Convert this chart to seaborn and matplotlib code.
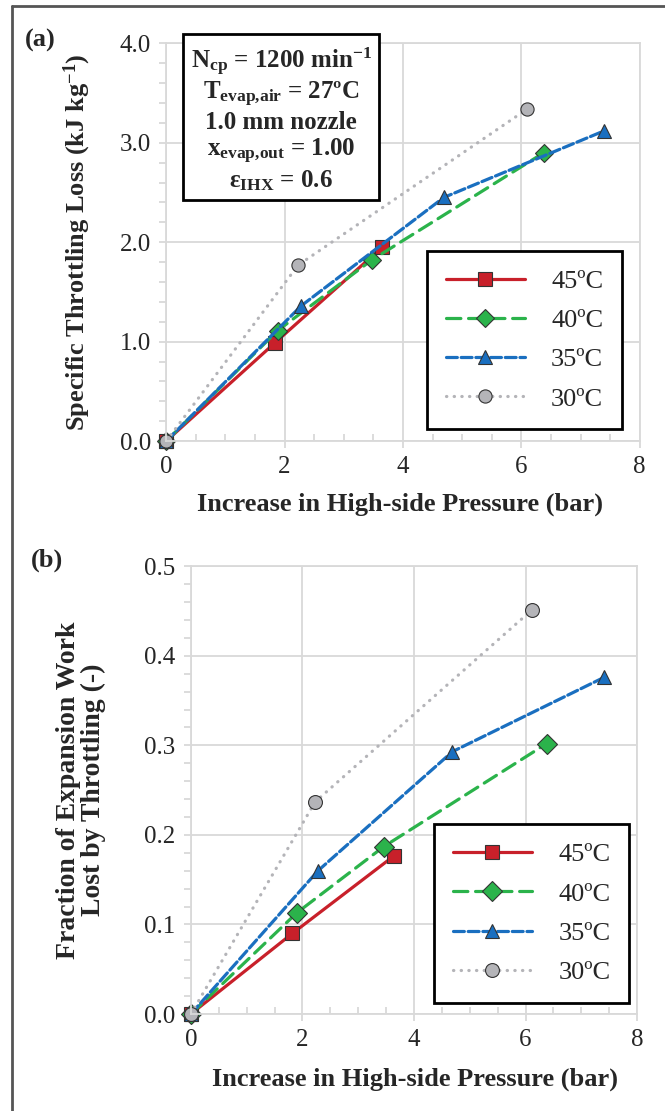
import pandas as pd
import matplotlib.pyplot as plt
import numpy as np
import seaborn as sns
from matplotlib.lines import Line2D
from matplotlib.ticker import MultipleLocator, FormatStrFormatter

# ---- data ----
labels = ["45ºC", "40ºC", "35ºC", "30ºC"]

dp_45 = [0, 1.84, 3.65]
dp_40 = [0, 1.88, 3.47, 6.38]
dp_35 = [0, 2.28, 4.69, 7.40]
dp_30 = [0, 2.23, 6.10]

loss_45 = [0, 0.99, 1.95]
loss_40 = [0, 1.11, 1.82, 2.90]
loss_35 = [0, 1.36, 2.45, 3.12]
loss_30 = [0, 1.77, 3.34]

dp_b_45 = [0, 1.82, 3.65]
dp_b_40 = [0, 1.90, 3.46, 6.38]
dp_b_35 = [0, 2.28, 4.69, 7.41]
dp_b_30 = [0, 2.23, 6.11]

frac_45 = [0, 0.090, 0.177]
frac_40 = [0, 0.113, 0.187, 0.302]
frac_35 = [0, 0.160, 0.293, 0.376]
frac_30 = [0, 0.237, 0.451]

conditions = ["N$_{cp}$ = 1200 min$^{-1}$", "T$_{evap{,}air}$ = 27ºC",
              "1.0 mm nozzle", "x$_{evap{,}out}$ = 1.00", "ε$_{IHX}$ = 0.6"]


def make_df(xs, ys):
    rows = []
    for lab, x, y in zip(labels, xs, ys):
        for xi, yi in zip(x, y):
            rows.append({"Temp": lab, "dP": xi, "val": yi})
    return pd.DataFrame(rows)


df_a = make_df([dp_45, dp_40, dp_35, dp_30], [loss_45, loss_40, loss_35, loss_30])
df_b = make_df([dp_b_45, dp_b_40, dp_b_35, dp_b_30], [frac_45, frac_40, frac_35, frac_30])

sns.set_style("white")
plt.rcParams['font.family'] = ['Liberation Serif', 'DejaVu Serif']
plt.rcParams['mathtext.fontset'] = 'custom'
plt.rcParams['mathtext.rm'] = 'Liberation Serif'
plt.rcParams['mathtext.bf'] = 'Liberation Serif:bold'
plt.rcParams['mathtext.default'] = 'bf'

palette = {"45ºC": "#c8202a", "40ºC": "#2bb34b", "35ºC": "#1a6fc0", "30ºC": "#b4b4b8"}
markers = {"45ºC": "s", "40ºC": "D", "35ºC": "^", "30ºC": "o"}
dashes = {"45ºC": "", "40ºC": (4.5, 2.4), "35ºC": (3.4, 1.2), "30ºC": (0.1, 2.3)}
grid_c = "#d9d9d9"

fig = plt.figure(figsize=(6.65, 11.11), dpi=100)
ax_a = fig.add_axes([0.250, 0.603, 0.712, 0.358])
ax_b = fig.add_axes([0.287, 0.0873, 0.671, 0.403])

for ax, df, ms in [(ax_a, df_a, 9.5), (ax_b, df_b, 10)]:
    sns.lineplot(data=df, x="dP", y="val", hue="Temp", style="Temp",
                 hue_order=labels, style_order=labels, palette=palette,
                 markers=markers, dashes=dashes, sort=False, ax=ax,
                 lw=2.3, markersize=ms, markeredgecolor="#333333",
                 markeredgewidth=0.8, dash_capstyle="round", clip_on=False)
    ax.set_xlim(0, 8)
    ax.xaxis.set_major_locator(MultipleLocator(2))
    ax.xaxis.set_minor_locator(MultipleLocator(0.5))
    ax.grid(True, which="major", color=grid_c, lw=1.3)
    ax.set_axisbelow(True)
    for s in ax.spines.values():
        s.set_color(grid_c)
        s.set_linewidth(1.3)
    ax.tick_params(which="major", axis="both", length=5, color=grid_c, width=1.3,
                   labelsize=18, pad=6)
    ax.tick_params(which="minor", axis="x", direction="in", length=5, color=grid_c, width=1.3)
    ax.tick_params(which="minor", axis="y", direction="out", length=5, color=grid_c, width=1.3)
    ax.tick_params(which="both", bottom=True, left=True)
    ax.set_xlabel("Increase in High-side Pressure (bar)", fontsize=19, fontweight="bold")

    handles, labs = ax.get_legend_handles_labels()
    ax.legend(handles, labs, fontsize=19, frameon=True, fancybox=False,
              edgecolor="black", framealpha=1, handlelength=3.0,
              handletextpad=1.0, labelspacing=0.6, borderpad=0.7,
              borderaxespad=0, loc="lower right",
              bbox_to_anchor=(0.962, 0.03) if ax is ax_a else (0.982, 0.025))
    ax.get_legend().get_frame().set_linewidth(2)

ax_a.set_ylim(0, 4)
ax_a.yaxis.set_major_locator(MultipleLocator(1))
ax_a.yaxis.set_minor_locator(MultipleLocator(0.2))
ax_a.yaxis.set_major_formatter(FormatStrFormatter("%.1f"))
ax_a.set_ylabel("Specific Throttling Loss (kJ kg$^{-1}$)", fontsize=19, fontweight="bold")
ax_a.yaxis.set_label_coords(-0.155, 0.5)
ax_a.xaxis.set_label_coords(0.494, -0.13)
ax_a.xaxis.label.set_va("top")

ax_b.set_ylim(0, 0.5)
ax_b.yaxis.set_major_locator(MultipleLocator(0.1))
ax_b.yaxis.set_minor_locator(MultipleLocator(0.02))
ax_b.yaxis.set_major_formatter(FormatStrFormatter("%.1f"))
ax_b.set_ylabel("Fraction of Expansion Work\nLost by Throttling (-)", fontsize=20,
                fontweight="bold", linespacing=1.0)
ax_b.yaxis.set_label_coords(-0.19, 0.5)
ax_b.xaxis.set_label_coords(0.502, -0.12)
ax_b.xaxis.label.set_va("top")

# conditions box
ax_a.text(0.243, 0.995, "\n".join(conditions), transform=ax_a.transAxes,
          ha="center", va="top", multialignment="center", fontsize=18,
          fontweight="bold", linespacing=1.12, zorder=10,
          bbox=dict(boxstyle="square,pad=0.3", fc="white", ec="black", lw=2))

# panel labels
fig.text(40 / 665, 1 - 40 / 1111, "(a)", fontsize=19, fontweight="bold", ha="center", va="center")
fig.text(47 / 665, 1 - 560 / 1111, "(b)", fontsize=19, fontweight="bold", ha="center", va="center")

# outer frame (left and top)
fig.add_artist(Line2D([12 / 665, 12 / 665], [0, 1 - 6 / 1111], color="#555555", lw=2))
fig.add_artist(Line2D([12 / 665, 1], [1 - 6 / 1111, 1 - 6 / 1111], color="#555555", lw=2))

fig.savefig("out.png", dpi=100)
